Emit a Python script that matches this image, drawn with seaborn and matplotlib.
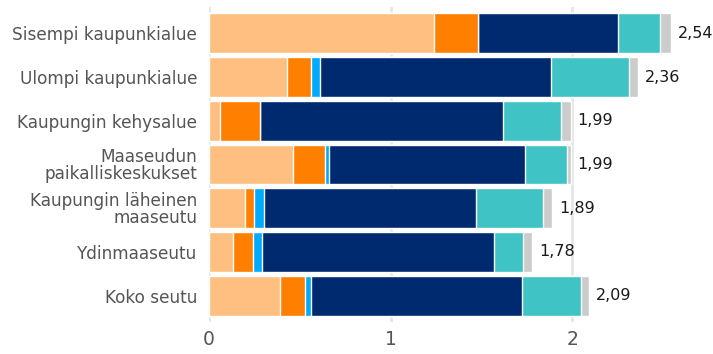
import matplotlib
matplotlib.use("Agg")
import matplotlib.pyplot as plt
import seaborn as sns
import numpy as np
import pandas as pd

categories = [
    "Sisempi kaupunkialue",
    "Ulompi kaupunkialue",
    "Kaupungin kehysalue",
    "Maaseudun\npaikalliskeskukset",
    "Kaupungin läheinen\nmaaseutu",
    "Ydinmaaseutu",
    "Koko seutu",
]

# stacked segments, left to right
seg_light_orange = [1.24, 0.43, 0.06, 0.46, 0.20, 0.13, 0.39]
seg_orange       = [0.24, 0.13, 0.22, 0.18, 0.05, 0.11, 0.14]
seg_light_blue   = [0.00, 0.05, 0.00, 0.02, 0.05, 0.05, 0.03]
seg_navy         = [0.77, 1.27, 1.34, 1.08, 1.17, 1.28, 1.16]
seg_teal         = [0.23, 0.43, 0.32, 0.23, 0.37, 0.16, 0.33]
seg_gray         = [0.06, 0.05, 0.05, 0.02, 0.05, 0.05, 0.04]

totals = [2.54, 2.36, 1.99, 1.99, 1.89, 1.78, 2.09]
tick_values = [0, 1, 2]

segments = [seg_light_orange, seg_orange, seg_light_blue, seg_navy, seg_teal, seg_gray]
colors = ["#FFBF80", "#FF8000", "#00AAFF", "#002A6F", "#40C3C4", "#CCCCCC"]

sns.set_theme(style="white")
plt.rcParams["font.family"] = ["DejaVu Sans"]

fig = plt.figure(figsize=(7.13, 3.54), dpi=100)
ax = fig.add_axes([209 / 713, 1 - 322 / 354, 1 - 209 / 713, 315 / 354])

cum = np.cumsum(np.array(segments), axis=0)
# draw cumulative bars from the longest to the shortest so they stack visually
for i in range(len(segments) - 1, -1, -1):
    df = pd.DataFrame({"cat": categories, "val": cum[i]})
    sns.barplot(data=df, y="cat", x="val", orient="h", color=colors[i],
                width=0.91, saturation=1, ax=ax, zorder=3)

for j, t in enumerate(totals):
    ax.annotate(f"{t:.2f}".replace(".", ","), xy=(t, j), xytext=(5, 0),
                textcoords="offset points", va="center", ha="left",
                fontsize=11.5, color="#1a1a1a")

ax.set_xlim(0, (713 - 209) / 181.7)
ax.set_ylim(6.6, -0.6)
ax.set_xticks(tick_values)
ax.set_xticklabels([str(v) for v in tick_values], fontsize=13.5, color="#555555")
ax.tick_params(axis="x", length=0, pad=6)
ax.tick_params(axis="y", length=0, pad=8.5)
for lbl in ax.get_yticklabels():
    lbl.set_fontsize(12.2)
    lbl.set_color("#555555")
    lbl.set_linespacing(0.92)
ax.set_xlabel("")
ax.set_ylabel("")
ax.grid(axis="x", color="#E6E6E6", linewidth=2, zorder=0)
ax.grid(axis="y", visible=False)
for s in ax.spines.values():
    s.set_visible(False)

fig.savefig("out.png", dpi=100)
